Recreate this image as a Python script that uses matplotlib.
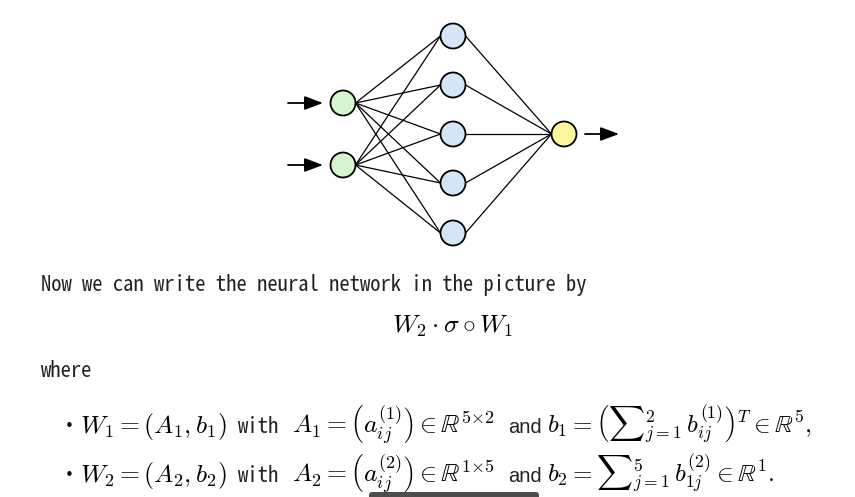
import matplotlib; matplotlib.use("Agg")
import matplotlib.pyplot as plt
from matplotlib.patches import Circle, FancyArrowPatch, FancyBboxPatch

plt.rcParams["mathtext.fontset"] = "cm"
MONO = ["Noto Sans Mono CJK KR", "DejaVu Sans Mono"]
SANS = ["Liberation Sans", "DejaVu Sans"]

# network layout (pixel coords of the screenshot)
layer_x = [343, 453, 564]
layer_y = [[103, 165], [36, 85, 134, 183, 233], [134]]
layer_fc = ["#d6f5cf", "#d3e5f7", "#fff69c"]
R = 12.5

fig = plt.figure(figsize=(8.55, 4.97), dpi=100)
ax = fig.add_axes([0, 0, 1, 1])
ax.set_xlim(0, 855); ax.set_ylim(497, 0); ax.axis("off")

# edges: right edge of one node -> left edge of the next
for li in range(len(layer_x) - 1):
    for y0 in layer_y[li]:
        for y1 in layer_y[li + 1]:
            ax.plot([layer_x[li] + R, layer_x[li + 1] - R], [y0, y1],
                    color="black", lw=0.9, zorder=1)

for li, x in enumerate(layer_x):
    for y in layer_y[li]:
        ax.add_patch(Circle((x, y), R, fc=layer_fc[li], ec="black", lw=1.3, zorder=3))

def arrow(x1, x2, y):
    ax.add_patch(FancyArrowPatch((x1, y), (x2, y), arrowstyle="-|>,head_length=0.8,head_width=0.3",
                                 mutation_scale=14, color="black", lw=1.3, shrinkA=0, shrinkB=0))

for y in layer_y[0]:
    arrow(288, 323, y)
arrow(585, 619, layer_y[2][0])

# text
ax.text(41, 291, "Now we can write the neural network in the picture by",
        family=MONO, fontsize=14.8, va="baseline", color="#222")
ax.text(453, 333, r"$W_2 \cdot \sigma \circ W_1$", fontsize=18.5, ha="center", va="baseline")
ax.text(41, 377, "where", family=MONO, fontsize=14.8, va="baseline", color="#222")

lines = [
    [r"$W_1 = (A_1, b_1)$", r"$A_1 = \left(a_{ij}^{(1)}\right) \in \mathbb{R}^{5{\times}2}$",
     r"$b_1 = \left({\sum}_{j=1}^{2}\, b_{ij}^{(1)}\right)^T \in \mathbb{R}^5,$"],
    [r"$W_2 = (A_2, b_2)$", r"$A_2 = \left(a_{ij}^{(2)}\right) \in \mathbb{R}^{1{\times}5}$",
     r"$b_2 = {\sum}_{j=1}^{5}\, b_{1j}^{(2)} \in \mathbb{R}^1.$"],
]
for base, parts in zip([433, 482], lines):
    ax.text(65, base - 2, "•", fontsize=11, va="baseline", family="DejaVu Sans")
    ax.text(80, base, parts[0], fontsize=18.5, va="baseline")
    ax.text(238, base, "with", family=MONO, fontsize=14.8, va="baseline", color="#222")
    ax.text(292, base, parts[1], fontsize=18.5, va="baseline")
    ax.text(508, base, "and", family=SANS, fontsize=14.5, va="baseline", color="#222")
    ax.text(547, base, parts[2], fontsize=18, va="baseline")

# overlay bar at bottom of the screenshot
ax.add_patch(FancyBboxPatch((369, 492), 170, 10, boxstyle="round,pad=0,rounding_size=3",
                            fc="#4d4d4d", ec="none", zorder=5, clip_on=False))

fig.savefig("out.png", dpi=100)
